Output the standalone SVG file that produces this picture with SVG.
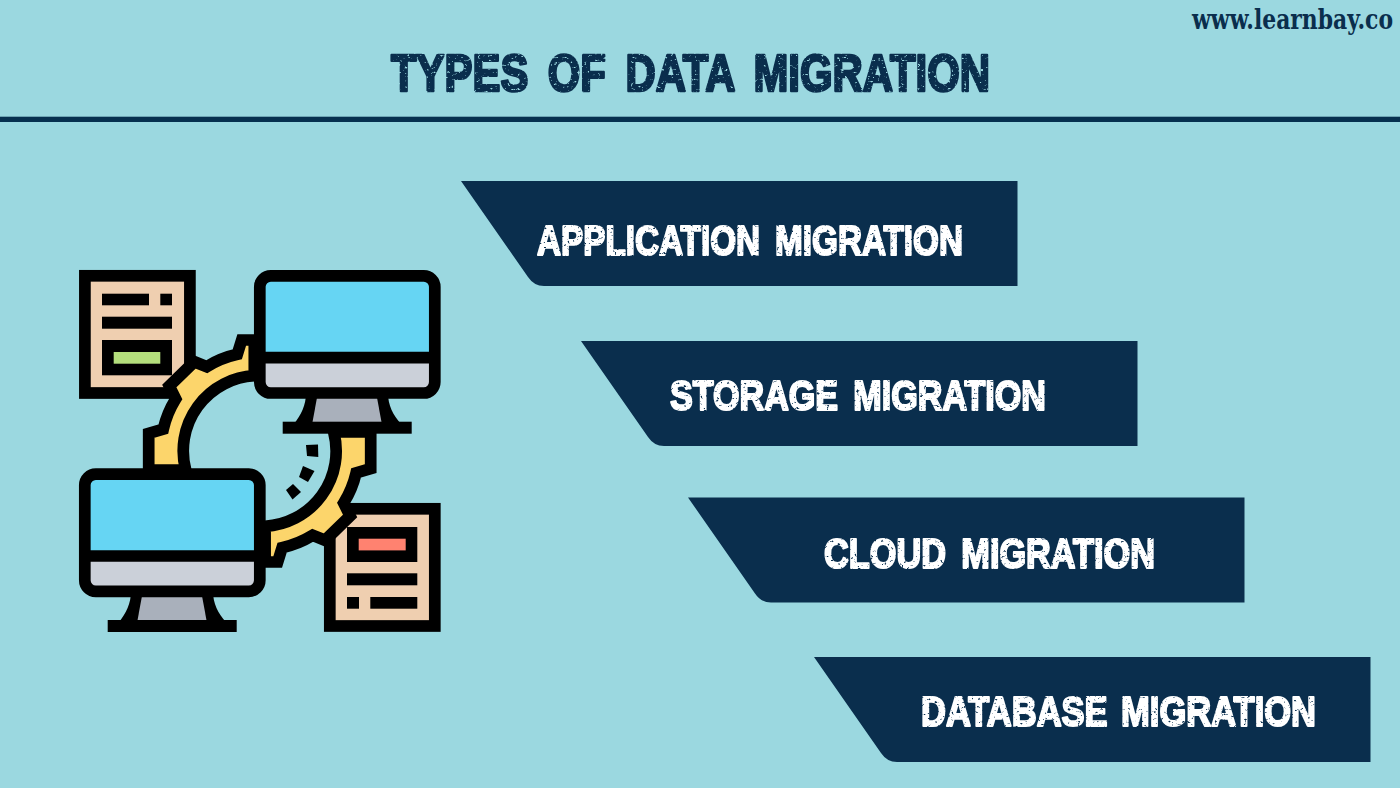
<svg xmlns="http://www.w3.org/2000/svg" width="1400" height="788" viewBox="0 0 1400 788">
<style>
.b{fill:#0a2e4d}
.t{font-family:"Liberation Sans",Arial,sans-serif;font-weight:700;font-size:35px;word-spacing:6px;fill:#fff;stroke:#fff;stroke-width:1.8;stroke-linejoin:round;filter:url(#rough)}
.k{stroke:#000;stroke-width:11.7;stroke-linejoin:miter;fill:none}
.d{fill:#000}
.paper{fill:#efcfb0;stroke:#000;stroke-width:11.7}
.screen{fill:#66d5f3}
.grey{fill:#cbd0d9}
.stand{fill:#a9b0bb}
.gear{fill:#fcd56b;stroke:#000;stroke-width:11.7;stroke-linejoin:miter}
</style>
<defs>
<filter id="rough" x="-2%" y="-10%" width="104%" height="120%" color-interpolation-filters="sRGB">
<feTurbulence type="fractalNoise" baseFrequency="0.3 0.5" numOctaves="2" seed="4" result="n"/>
<feColorMatrix in="n" type="matrix" values="0 0 0 0 0 0 0 0 0 0 0 0 0 0 0 7 0 0 0 -1.5" result="a"/>
<feComposite in="SourceGraphic" in2="a" operator="in"/>
</filter>
<path id="banner" class="b" d="M0 0H556.500V105H83Q73 105 67 96Z"/>
<path id="gearHalf" class="gear" d="M254.300 340H241.700L237.300 354.300A99 99 0 0 0 206.700 366.700L194.300 361.700L169.300 386L175.700 399A99 99 0 0 0 163.300 429L148.700 433.300V470H185.700A75.300 75.300 0 0 1 254.300 375.700Z"/>
<g id="monitor">
<path d="M306 393C306 405 301 415 294 424H401C393 415 388 405 388 393Z" class="d"/>
<path class="stand" d="M317.500 395H376.500L381.500 422H312.500Z"/>
<rect x="282.700" y="421.700" width="129" height="12" class="d"/>
<rect x="259.800" y="275.800" width="175" height="117.200" rx="11" class="screen"/>
<path class="grey" d="M259.800 357.700H434.800V382A11 11 0 0 1 423.800 393H270.800A11 11 0 0 1 259.800 382Z"/>
<rect x="259.800" y="275.800" width="175" height="117.200" rx="11" class="k"/>
<path class="k" d="M259.800 357.700H434.800"/>
</g>
</defs>
<rect id="background" width="1400" height="788" fill="#9bd8e0"/>
<g id="header">
<text transform="translate(1192 29) scale(1 1.38)" textLength="201" lengthAdjust="spacingAndGlyphs" font-family="'DejaVu Serif','Liberation Serif',serif" font-weight="700" font-size="20.500" fill="#0a2e4d">www.learnbay.co</text>
<text transform="translate(391 91) scale(1 1.2)" textLength="599" lengthAdjust="spacingAndGlyphs" font-family="'Liberation Sans',Arial,sans-serif" font-weight="700" font-size="43" word-spacing="8" fill="#0a2e4d" stroke="#0a2e4d" stroke-width="2.200" stroke-linejoin="round" filter="url(#rough)">TYPES OF DATA MIGRATION</text>
<rect x="0" y="116.700" width="1400" height="5.300" fill="#06304f"/>
</g>
<g id="icon">
<g id="doc1">
<rect x="84.900" y="275.800" width="105" height="117.200" class="paper"/>
<rect x="102" y="293.700" width="47" height="11.600" class="d"/>
<rect x="160.300" y="293.700" width="11.700" height="11.600" class="d"/>
<rect x="102" y="316.700" width="70" height="12" class="d"/>
<rect x="102" y="340" width="70" height="35.300" class="d"/>
<rect x="113.700" y="352" width="46.600" height="11.700" fill="#b4de7c"/>
</g>
<g id="doc2">
<rect x="329.800" y="508.800" width="105" height="117.200" class="paper"/>
<rect x="347" y="527" width="70.300" height="35" class="d"/>
<rect x="358.700" y="538.700" width="47" height="11.700" fill="#ff8270"/>
<rect x="347" y="573.300" width="70.300" height="12" class="d"/>
<rect x="347" y="597" width="12" height="11.700" class="d"/>
<rect x="370.300" y="597" width="47" height="11.700" class="d"/>
</g>
<g id="gear">
<use href="#gearHalf"/>
<use href="#gearHalf" transform="rotate(180 259.7 451)"/>
<path class="d" d="M306 445L318 444.500L318.300 457L307 456Z"/>
<path class="d" d="M303 466L314.500 471L308 482L299 477Z"/>
<path class="d" d="M293 484L301 492L292.500 499.500L286 490Z"/>
</g>
<use id="monitor1" href="#monitor"/>
<use id="monitor2" href="#monitor" transform="translate(-175 198.3)"/>
</g>
<g id="node1"><use href="#banner" x="461" y="181"/>
<text class="t" transform="translate(537 255) scale(1 1.22)" textLength="426" lengthAdjust="spacingAndGlyphs">APPLICATION MIGRATION</text></g>
<g id="node2"><use href="#banner" x="581" y="341"/>
<text class="t" transform="translate(670 410) scale(1 1.22)" textLength="376" lengthAdjust="spacingAndGlyphs">STORAGE MIGRATION</text></g>
<g id="node3"><use href="#banner" x="688" y="497.500"/>
<text class="t" transform="translate(824 568) scale(1 1.22)" textLength="331" lengthAdjust="spacingAndGlyphs">CLOUD MIGRATION</text></g>
<g id="node4"><use href="#banner" x="814" y="657"/>
<text class="t" transform="translate(921 726) scale(1 1.22)" textLength="395" lengthAdjust="spacingAndGlyphs" style="word-spacing:4px">DATABASE MIGRATION</text></g>
</svg>
